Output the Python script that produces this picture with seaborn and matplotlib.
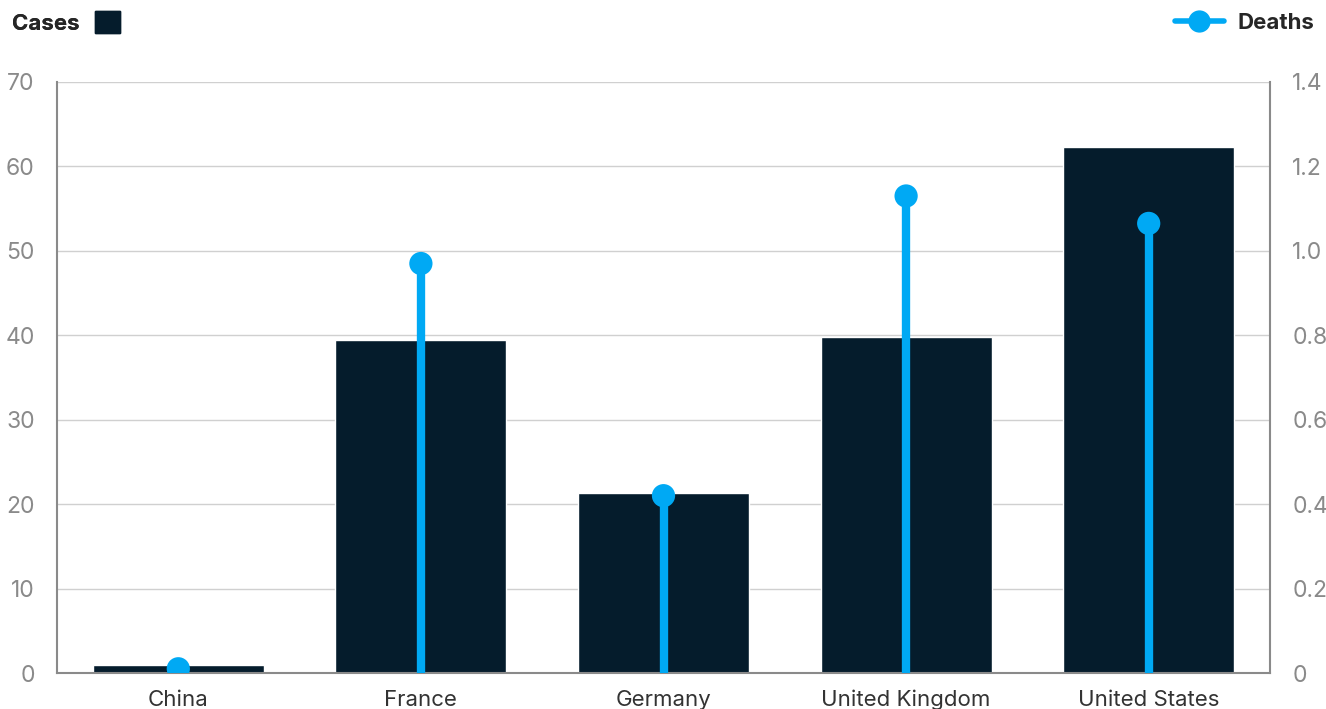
import matplotlib
matplotlib.use("Agg")
import matplotlib.pyplot as plt
import seaborn as sns
import pandas as pd
import numpy as np
from matplotlib.lines import Line2D
from matplotlib.patches import Patch

countries = ["China", "France", "Germany", "United Kingdom", "United States"]
cases = [0.9, 39.5, 21.3, 39.8, 62.3]
deaths = [0.01, 0.97, 0.42, 1.13, 1.065]
left_ticks = [0, 10, 20, 30, 40, 50, 60, 70]
right_ticks = [0, 0.2, 0.4, 0.6, 0.8, 1.0, 1.2, 1.4]
right_labels = ["0", "0.2", "0.4", "0.6", "0.8", "1.0", "1.2", "1.4"]

BAR = "#051C2C"
BLUE = "#00A9F4"
GRID = "#D0D0D0"
SPINE = "#8A8A8A"
TICK = "#8A8A8A"

sns.set_theme(style="white")
plt.rcParams["font.family"] = ["Inter", "DejaVu Sans"]

df = pd.DataFrame({"country": countries, "cases": cases, "deaths": deaths})

fig = plt.figure(figsize=(13.26, 7.09), dpi=100)
ax = fig.add_axes([57/1326, 1 - 673/709, (1270-57)/1326, (673-82)/709])

sns.barplot(data=df, x="country", y="cases", color=BAR, saturation=1, width=0.705, ax=ax, zorder=2)
ax.set_xlim(-0.5, 4.5)
ax.set_ylim(0, 70)
ax.set_yticks(left_ticks)
ax.set_yticklabels([str(t) for t in left_ticks])
ax.yaxis.grid(True, color=GRID, linewidth=1)
ax.set_axisbelow(True)
ax.set_xlabel("")
ax.set_ylabel("")
ax.tick_params(axis="y", colors=TICK, labelsize=16.5, length=0, pad=16)
ax.tick_params(axis="x", colors="#333333", labelsize=16, length=0, pad=12)
for lab in ax.get_xticklabels():
    lab.set_color("#333333")
for s in ["left", "right", "bottom"]:
    ax.spines[s].set_color(SPINE)
    ax.spines[s].set_linewidth(1.5)
ax.spines["top"].set_visible(False)

ax2 = ax.twinx()
ax2.set_ylim(0, 1.4)
ax2.set_yticks(right_ticks)
ax2.set_yticklabels(right_labels)
ax2.tick_params(axis="y", colors=TICK, labelsize=16.5, length=0, pad=16)
for s in ["left", "right", "bottom", "top"]:
    ax2.spines[s].set_visible(False)
xs = np.arange(len(countries))
ax2.vlines(xs, 0, deaths, color=BLUE, linewidth=6, zorder=3)
ax2.scatter(xs, deaths, s=280, color=BLUE, zorder=4, edgecolors="none")

leg1 = fig.legend(handles=[Patch(facecolor=BAR, edgecolor=BAR)], labels=["Cases"],
                  loc="upper left", bbox_to_anchor=(-0.006, 1.012), frameon=False,
                  markerfirst=False, handlelength=1.12, handleheight=1.12,
                  handletextpad=0.7, prop={"weight": "bold", "size": 16})
fig.add_artist(leg1)
leg2 = fig.legend(handles=[Line2D([0], [0], color=BLUE, lw=4, marker="o", markersize=15,
                                  markevery=[1])],
                  labels=["Deaths"], loc="upper right", bbox_to_anchor=(1.006, 1.01),
                  frameon=False, handlelength=2.2, handletextpad=0.6,
                  prop={"weight": "bold", "size": 16})

fig.savefig("out.png", dpi=100)
